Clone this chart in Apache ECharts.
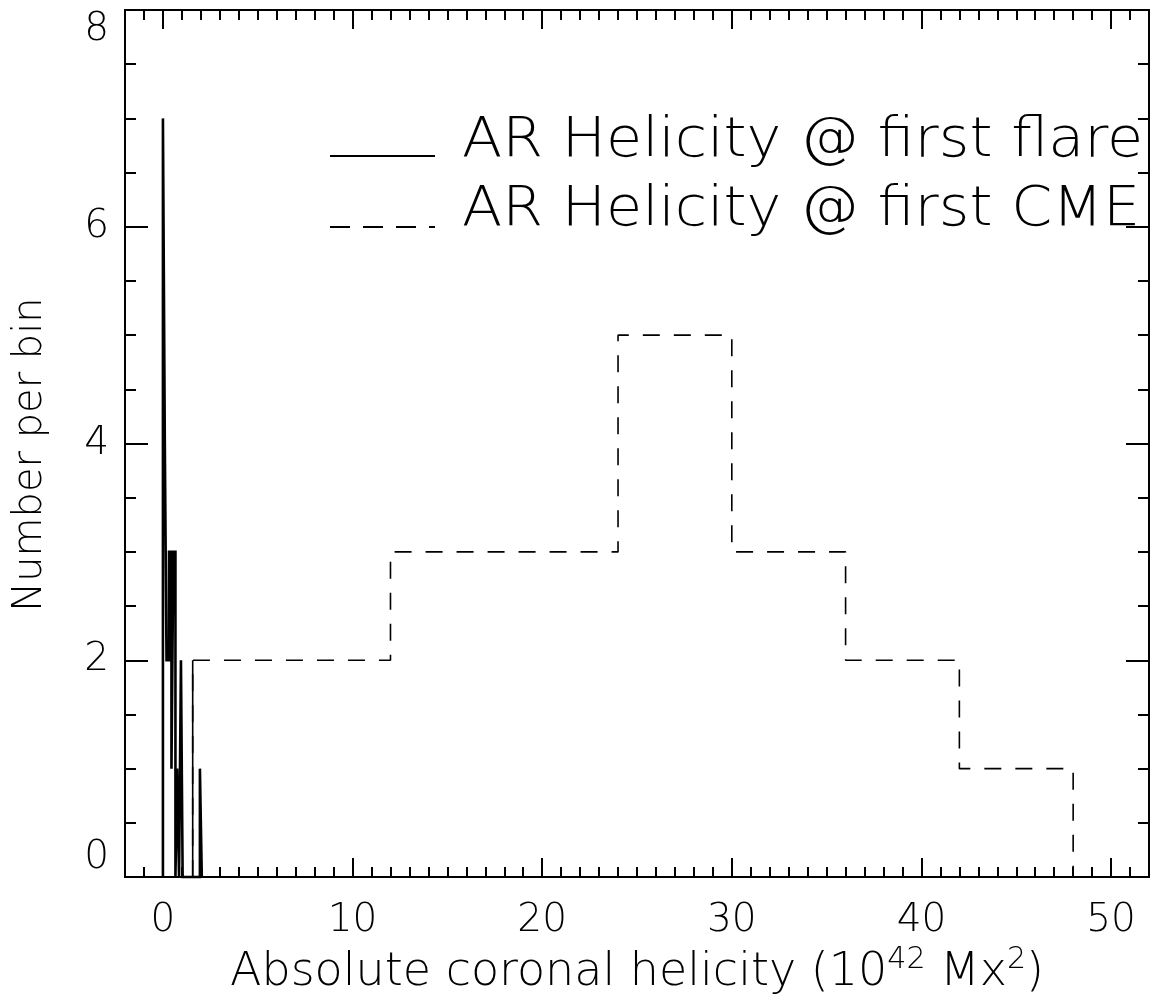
<!DOCTYPE html>
<html>
<head>
<meta charset="utf-8">
<script src="https://cdn.jsdelivr.net/npm/echarts@6/dist/echarts.min.js"></script>
<style>
  html, body { margin: 0; padding: 0; background: #fff; }
  #chart { width: 1152px; height: 1008px; }
</style>
</head>
<body>
<div id="chart"></div>
<script>
// ---- data ----
const xMajorTicks = [0, 10, 20, 30, 40, 50];
const yMajorTicks = [0, 2, 4, 6, 8];

// AR helicity at first flare (fine bins, solid)
const flareEdges  = [0.00, 0.10, 0.19, 0.32, 0.45, 0.55, 0.66, 0.75, 0.85, 0.95, 1.04, 1.95, 2.05];
const flareCounts = [7, 4, 2, 3, 1, 3, 0, 1, 0, 2, 0, 1];

// AR helicity at first CME (dashed)
const cmeEdges  = [1.57, 12, 24, 30, 36, 42, 48];
const cmeCounts = [2, 3, 5, 3, 2, 1];

const legendNames = ['AR Helicity @ first flare', 'AR Helicity @ first CME'];

// ---- helpers ----
function stepPath(edges, counts) {
  const pts = [[edges[0], 0]];
  for (let i = 0; i < counts.length; i++) {
    pts.push([edges[i], counts[i]]);
    pts.push([edges[i + 1], counts[i]]);
  }
  pts.push([edges[edges.length - 1], 0]);
  return pts;
}

const FONT = "'DejaVu Sans ExtraLight', 'DejaVu Sans'";
const FW = 200;
const black = '#000';

const chart = echarts.init(document.getElementById('chart'), null, { renderer: 'canvas' });

const baseX = {
  type: 'value', min: -2, max: 52,
  axisLine: { show: true, onZero: false, lineStyle: { color: black, width: 2 } },
  splitLine: { show: false }
};
const baseY = {
  type: 'value', min: 0, max: 8, interval: 2,
  axisLine: { show: true, onZero: false, lineStyle: { color: black, width: 2 } },
  splitLine: { show: false },
  axisTick: { show: true, inside: true, length: 23, lineStyle: { color: black, width: 2 } },
  minorTick: { show: true, splitNumber: 4, length: 11, lineStyle: { color: black, width: 2 } },
  minorSplitLine: { show: false }
};

const option = {
  backgroundColor: '#fff',
  animation: false,
  grid: { left: 125, top: 10, width: 1024, height: 867, containLabel: false },
  xAxis: [
    Object.assign({}, baseX, {
      position: 'bottom',
      name: 'Absolute coronal helicity (10{sup|42} Mx{sup|2})',
      nameLocation: 'middle', nameGap: 64,
      nameTextStyle: {
        color: black, fontFamily: FONT, fontWeight: FW, fontSize: 46,
        rich: { sup: { fontFamily: FONT, fontWeight: FW, fontSize: 30, verticalAlign: 'top', color: black, padding: [0, 0, 26, 0] } }
      },
      axisTick: { show: true, inside: true, length: 19, customValues: xMajorTicks, lineStyle: { color: black, width: 2 } },
      axisLabel: { show: true, customValues: xMajorTicks, margin: 24, color: black, fontFamily: FONT, fontWeight: FW, fontSize: 39 }
    }),
    Object.assign({}, baseX, {
      position: 'bottom', interval: 1,
      axisTick: { show: true, inside: true, length: 10, lineStyle: { color: black, width: 2 } },
      axisLabel: { show: false }
    }),
    Object.assign({}, baseX, {
      position: 'top',
      axisTick: { show: true, inside: true, length: 19, customValues: xMajorTicks, lineStyle: { color: black, width: 2 } },
      axisLabel: { show: false }
    }),
    Object.assign({}, baseX, {
      position: 'top', interval: 1,
      axisTick: { show: true, inside: true, length: 10, lineStyle: { color: black, width: 2 } },
      axisLabel: { show: false }
    })
  ],
  yAxis: [
    Object.assign({}, baseY, {
      position: 'left',
      name: 'Number per bin', nameLocation: 'middle', nameGap: 74,
      nameTextStyle: { color: black, fontFamily: FONT, fontWeight: FW, fontSize: 40, padding: [0, 22, 0, 0] },
      axisLabel: {
        show: true, margin: 16, color: black, fontFamily: FONT, fontWeight: FW, fontSize: 39,
        customValues: yMajorTicks,
        verticalAlignMinLabel: 'bottom', verticalAlignMaxLabel: 'top'
      }
    }),
    Object.assign({}, baseY, {
      position: 'right',
      axisLabel: { show: false }
    })
  ],
  graphic: [
    { type: 'line', shape: { x1: 330, y1: 156, x2: 435, y2: 156 }, style: { stroke: black, lineWidth: 2 } },
    { type: 'text', x: 462, y: 169, scaleX: 1.05, style: { text: legendNames[0], fill: black, fontFamily: FONT, fontWeight: FW, fontSize: 56, verticalAlign: 'bottom' } },
    { type: 'line', shape: { x1: 330, y1: 227, x2: 435, y2: 227 }, style: { stroke: black, lineWidth: 2, lineDash: [20, 13] } },
    { type: 'text', x: 462, y: 238, scaleX: 1.05, style: { text: legendNames[1], fill: black, fontFamily: FONT, fontWeight: FW, fontSize: 56, verticalAlign: 'bottom' } }
  ],
  series: [
    {
      name: legendNames[0], type: 'line', xAxisIndex: 0, yAxisIndex: 0,
      data: stepPath(flareEdges, flareCounts), symbol: 'none', clip: false,
      lineStyle: { color: black, width: 2.6, join: 'miter' }
    },
    {
      name: legendNames[1], type: 'line', xAxisIndex: 0, yAxisIndex: 0,
      data: stepPath(cmeEdges, cmeCounts), symbol: 'none', clip: false,
      lineStyle: { color: black, width: 1.6, type: [17, 14] }
    },
    {
      name: 'cme-left-edge', type: 'line', xAxisIndex: 0, yAxisIndex: 0,
      data: [[cmeEdges[0], 0], [cmeEdges[0], cmeCounts[0]]], symbol: 'none',
      lineStyle: { color: black, width: 1.6 }
    }
  ]
};
chart.setOption(option);
</script>
</body>
</html>
